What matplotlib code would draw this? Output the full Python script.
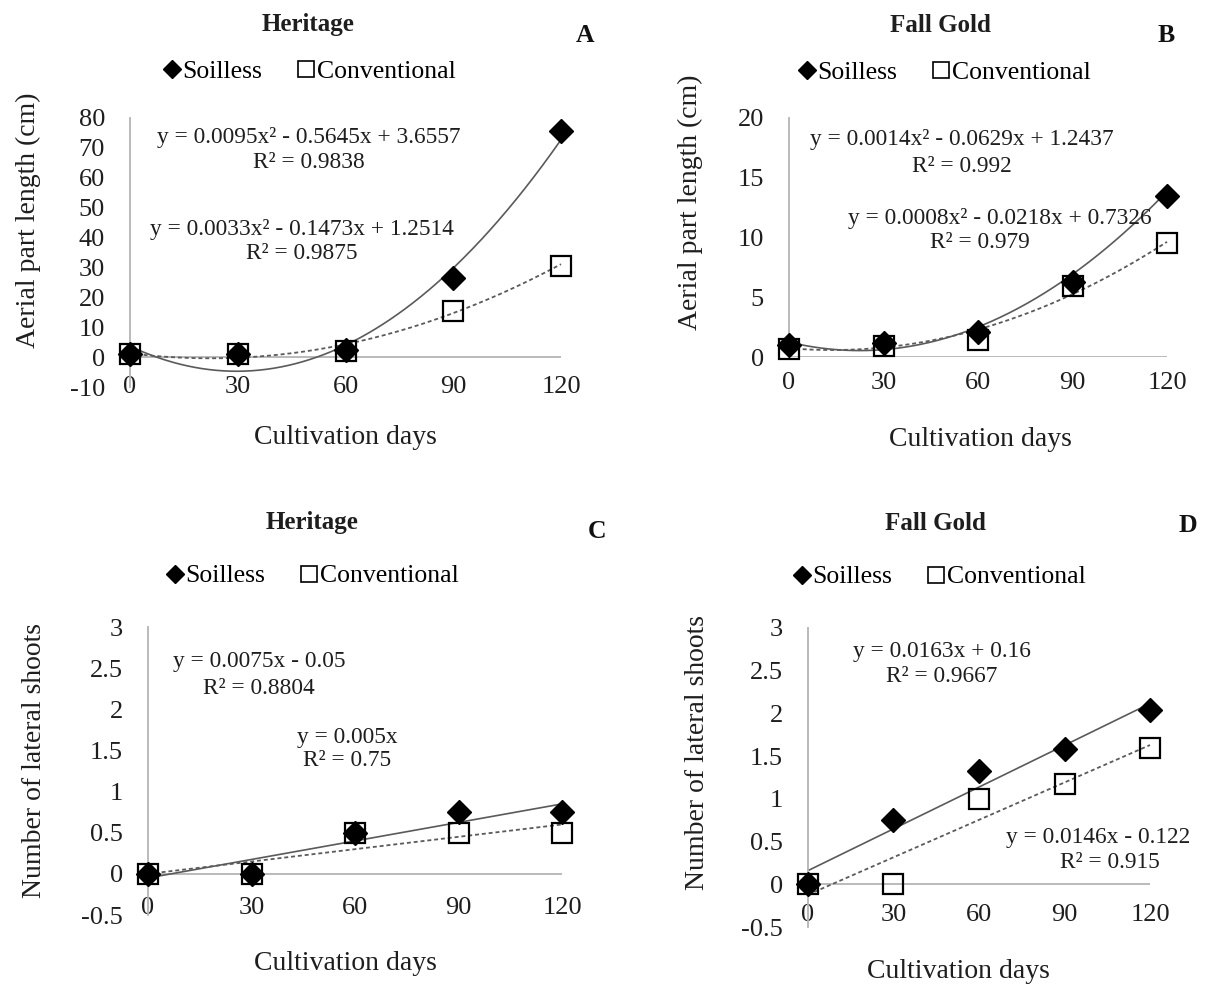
import numpy as np
import matplotlib
matplotlib.use("Agg")
import matplotlib.pyplot as plt
from matplotlib.lines import Line2D

plt.rcParams['font.family'] = ['Liberation Serif', 'DejaVu Serif']
plt.rcParams['axes.unicode_minus'] = False

# ---------------- data ----------------
days = [0, 30, 60, 90, 120]
day_labels = ["0", "30", "60", "90", "120"]

heritage_len_soilless = [1.0, 1.0, 2.5, 26.5, 75.5]
heritage_len_conv = [1.0, 1.0, 2.0, 15.5, 30.5]
fallgold_len_soilless = [1.0, 1.2, 2.1, 6.3, 13.5]
fallgold_len_conv = [0.7, 0.9, 1.4, 5.9, 9.5]
heritage_shoots_soilless = [0, 0, 0.5, 0.75, 0.75]
heritage_shoots_conv = [0, 0, 0.5, 0.5, 0.5]
fallgold_shoots_soilless = [0, 0.75, 1.33, 1.58, 2.04]
fallgold_shoots_conv = [0, 0, 1.0, 1.17, 1.6]

# trendline coefficients (highest power first), as printed on the chart
coef_A_soil = [0.0095, -0.5645, 3.6557]
coef_A_conv = [0.0033, -0.1473, 1.2514]
coef_B_soil = [0.0014, -0.0629, 1.2437]
coef_B_conv = [0.0008, -0.0218, 0.7326]
coef_C_soil = [0.0075, -0.05]
coef_C_conv = [0.005, 0.0]
coef_D_soil = [0.0163, 0.16]
coef_D_conv = [0.0146, -0.122]

eq_A = ["y = 0.0095x² - 0.5645x + 3.6557", "R² = 0.9838",
        "y = 0.0033x² - 0.1473x + 1.2514", "R² = 0.9875"]
eq_B = ["y = 0.0014x² - 0.0629x + 1.2437", "R² = 0.992",
        "y = 0.0008x² - 0.0218x + 0.7326", "R² = 0.979"]
eq_C = ["y = 0.0075x - 0.05", "R² = 0.8804", "y = 0.005x", "R² = 0.75"]
eq_D = ["y = 0.0163x + 0.16", "R² = 0.9667", "y = 0.0146x - 0.122", "R² = 0.915"]

yticks_A = [-10, 0, 10, 20, 30, 40, 50, 60, 70, 80]
yticks_B = [0, 5, 10, 15, 20]
yticks_CD = [-0.5, 0, 0.5, 1, 1.5, 2, 2.5, 3]
ylabels_A = ["-10", "0", "10", "20", "30", "40", "50", "60", "70", "80"]
ylabels_B = ["0", "5", "10", "15", "20"]
ylabels_CD = ["-0.5", "0", "0.5", "1", "1.5", "2", "2.5", "3"]

titles = ["Heritage", "Fall Gold", "Heritage", "Fall Gold"]
letters = ["A", "B", "C", "D"]
ylab_len = "Aerial part length (cm)"
ylab_shoots = "Number of lateral shoots"
xlab = "Cultivation days"
series_names = ["Soilless", "Conventional"]

# ---------------- layout (pixels) ----------------
W, H = 1206, 985
fig = plt.figure(figsize=(W / 100, H / 100), dpi=100)


def rect(l, r, t, b):
    return [l / W, 1 - b / H, (r - l) / W, (b - t) / H]


def fxy(x, y):
    return (x / W, 1 - y / H)


AXIS_GRAY = "#b4b4b4"
TREND = "#5a5a5a"
TXT = "#1e1e1e"
TICK_FS = 19
LAB_FS = 20
EQ_FS = 16.8
LEG_FS = 18.5
TITLE_FS = 18

panels = [
    dict(rect=(130, 561, 118, 387), ylim=(-10, 80), yt=yticks_A, yl=ylabels_A,
         soil=heritage_len_soilless, conv=heritage_len_conv,
         cs=coef_A_soil, cc=coef_A_conv, eq=eq_A, xpad=0,
         eqpos=[(309, 137), (309, 162), (302, 230), (302, 254)],
         title=(308, 25), letter=(585, 35), legend=(310, 72),
         ylab=ylab_len, ylabpos=(28, 220), xlabpos=(345, 437)),
    dict(rect=(789, 1167, 118, 357), ylim=(0, 20), yt=yticks_B, yl=ylabels_B,
         soil=fallgold_len_soilless, conv=fallgold_len_conv,
         cs=coef_B_soil, cc=coef_B_conv, eq=eq_B, xpad=26,
         eqpos=[(962, 140), (962, 166), (1000, 219), (980, 243)],
         title=(940, 25), letter=(1166, 35), legend=(945, 73),
         ylab=ylab_len, ylabpos=(690, 202), xlabpos=(980, 440)),
    dict(rect=(148, 562, 627, 915), ylim=(-0.5, 3), yt=yticks_CD, yl=ylabels_CD,
         soil=heritage_shoots_soilless, conv=heritage_shoots_conv,
         cs=coef_C_soil, cc=coef_C_conv, eq=eq_C, xpad=-7,
         eqpos=[(259, 662), (259, 688), (347, 737), (347, 760)],
         title=(312, 523), letter=(597, 532), legend=(313, 576),
         ylab=ylab_shoots, ylabpos=(35, 760), xlabpos=(345, 963)),
    dict(rect=(808, 1150, 628, 927), ylim=(-0.5, 3), yt=yticks_CD, yl=ylabels_CD,
         soil=fallgold_shoots_soilless, conv=fallgold_shoots_conv,
         cs=coef_D_soil, cc=coef_D_conv, eq=eq_D, xpad=-12,
         eqpos=[(942, 652), (942, 677), (1098, 837), (1110, 862)],
         title=(935, 524), letter=(1188, 525), legend=(940, 577),
         ylab=ylab_shoots, ylabpos=(697, 752), xlabpos=(958, 972)),
]

xs = np.linspace(0, 120, 300)

for i, p in enumerate(panels):
    ax = fig.add_axes(rect(*p["rect"]))
    ax.set_xlim(0, 120)
    ax.set_ylim(*p["ylim"])
    for s in ["top", "right", "bottom"]:
        ax.spines[s].set_visible(False)
    ax.spines["left"].set_color(AXIS_GRAY)
    ax.spines["left"].set_linewidth(1.3)
    ax.axhline(0, color=AXIS_GRAY, lw=1.3, zorder=1)
    ax.patch.set_alpha(0)

    ax.set_xticks(days)
    ax.set_xticklabels(day_labels, va="center", fontsize=TICK_FS)
    ax.set_yticks(p["yt"])
    ax.set_yticklabels(p["yl"], fontsize=TICK_FS)
    ax.tick_params(axis="x", length=0, pad=p["xpad"] * 0.72)
    ax.tick_params(axis="y", length=0, pad=18)
    ax.tick_params(colors=TXT)

    # trendlines
    ax.plot(xs, np.polyval(p["cs"], xs), color=TREND, lw=1.2, zorder=2,
            clip_on=False)
    ax.plot(xs, np.polyval(p["cc"], xs), color=TREND, lw=1.3, zorder=2,
            linestyle=(0, (2.2, 1.6)), clip_on=False)

    # markers
    ax.plot(days, p["soil"], linestyle="none", marker="D", markersize=12,
            color="black", zorder=4, clip_on=False)
    ax.plot(days, p["conv"], linestyle="none", marker="s", markersize=14,
            markerfacecolor="none", markeredgecolor="black", markeredgewidth=1.6,
            zorder=5, clip_on=False)

    # equations
    for txt, (x, y) in zip(p["eq"], p["eqpos"]):
        fig.text(*fxy(x, y), txt, fontsize=EQ_FS, ha="center", va="center",
                 color=TXT)

    # titles and letters
    fig.text(*fxy(*p["title"]), titles[i], fontsize=TITLE_FS, fontweight="bold",
             ha="center", va="center", color=TXT)
    fig.text(*fxy(*p["letter"]), letters[i], fontsize=TITLE_FS + 0.5,
             fontweight="bold", ha="center", va="center", color="#111111")

    # axis labels
    fig.text(*fxy(*p["ylabpos"]), p["ylab"], fontsize=LAB_FS, rotation=90,
             ha="center", va="center", color=TXT)
    fig.text(*fxy(*p["xlabpos"]), xlab, fontsize=LAB_FS, ha="center",
             va="center", color=TXT)

    # legend
    handles = [Line2D([], [], linestyle="none", marker="D", markersize=9,
                      color="black"),
               Line2D([], [], linestyle="none", marker="s", markersize=11,
                      markerfacecolor="white", markeredgecolor="black",
                      markeredgewidth=1.2)]
    fig.legend(handles, series_names, loc="center",
               bbox_to_anchor=fxy(*p["legend"]), ncol=2, frameon=False,
               handlelength=0.6, handletextpad=0.1, columnspacing=1.4,
               fontsize=LEG_FS, borderpad=0, borderaxespad=0)

fig.savefig("out.png", dpi=100)
